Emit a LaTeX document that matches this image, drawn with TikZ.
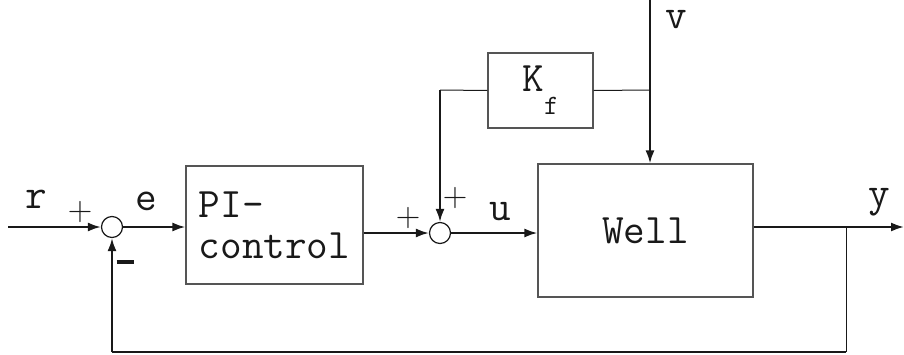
\documentclass[tikz,border=0pt]{standalone}
\usepackage{fontspec}
\usetikzlibrary{arrows.meta,positioning}
\definecolor{ink}{RGB}{25,25,25}
\definecolor{edge}{RGB}{85,85,85}
\tikzset{
  every picture/.style={color=ink, line width=0.5pt, font=\ttfamily\fontsize{21}{20.5}\selectfont},
  block/.style={draw=edge, line width=0.6pt, inner sep=0pt, align=left},
  sumpt/.style={draw=ink, circle, minimum size=10.5pt, inner sep=0pt, line width=0.6pt},
  sig/.style={-{Latex[length=6.5pt,width=4.5pt]}, line width=1pt},
  wire/.style={line width=0.5pt},
  bus/.style={line width=1pt},
  lbl/.style={inner sep=0pt, anchor=base},
  sgn/.style={inner sep=0pt, font=\rmfamily\fontsize{17}{17}\selectfont},
}
\begin{document}
\begin{tikzpicture}[x=0.5pt, y=-0.5pt]
  \useasboundingbox (0,0) rectangle (904,354);
  % blocks and summing points
  \node[sumpt] (sum1) at (112,227) {};
  \node[block, minimum width=88.5pt, minimum height=59pt] (pi) at (274.5,225) {PI-\\control};
  \node[sumpt] (sum2) at (440,233) {};
  \node[block, minimum width=107.5pt, minimum height=66.5pt] (well) at (645.5,230.5) {Well};
  \node[block, minimum width=52.5pt, minimum height=37.5pt] (kf) at (540.5,90.5) {K\raisebox{-11.5pt}{\fontsize{14}{14}\selectfont f}};
  % free ends and corners
  \coordinate (in) at (8,227);
  \coordinate (out) at (904,227);
  \coordinate (vtop) at (650,0);
  \coordinate (vtap) at (650,90);
  \coordinate (ytap) at (846,227);
  \coordinate (fbr) at (846,352);
  \coordinate (fbl) at (112,352);
  \coordinate (kfl) at (440,90);
  % signals
  \draw[sig] (in) -- (sum1);
  \draw[sig] (sum1) -- (pi.west |- sum1);
  \draw[sig] (pi.east |- sum2) -- (sum2);
  \draw[sig] (sum2) -- (well.west |- sum2);
  \draw[sig] (well.east |- out) -- (out);
  \draw[sig] (vtop) -- (well.north -| vtop);
  \draw[wire] (vtap) -- (kf.east);
  \draw[wire] (kf.west) -- (kfl);
  \draw[sig] (kfl) -- (sum2);
  \draw[wire] (ytap) -- (fbr);
  \draw[bus] (fbr) -- (fbl);
  \draw[sig] (fbl) -- (sum1);
  % labels
  \node[lbl] (rlbl) at (36,208) {r};
  \node[lbl] (elbl) at (146,210) {e};
  \node[lbl] (ulbl) at (500,220) {u};
  \node[lbl] (vlbl) at (676,28) {v};
  \node[lbl] (ylbl) at (879,206) {y};
  \node[sgn] (p1) at (80,212) {+};
  \node[sgn] (m1) at (125,262) {\rule{8.5pt}{1.6pt}};
  \node[sgn] (p2) at (408,218) {+};
  \node[sgn] (p3) at (455,198) {+};
\end{tikzpicture}
\end{document}
